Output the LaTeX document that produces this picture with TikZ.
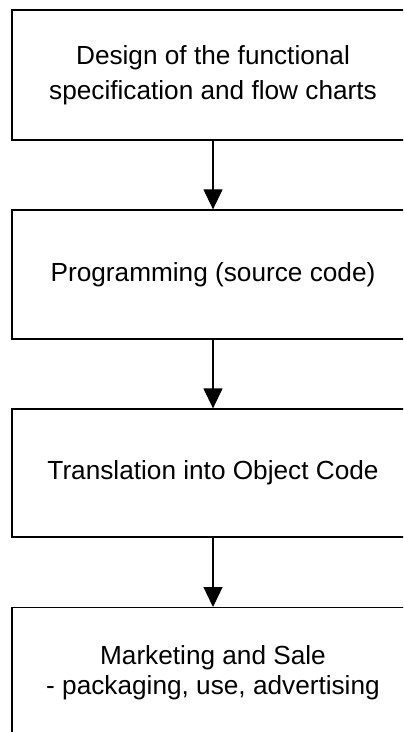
\documentclass[tikz,border=0pt]{standalone}
\usepackage{fontspec}
\setmainfont{Liberation Sans}
\usetikzlibrary{arrows.meta}
\begin{document}
\begin{tikzpicture}[x=1bp,y=-1bp,
  stagebox/.style={draw=black,line width=1.3bp,rectangle,minimum width=402bp,
    inner sep=0pt,align=center,font=\fontsize{26.2bp}{35bp}\selectfont},
  stagetext/.style={inner sep=0pt,align=center,font=\fontsize{26.2bp}{30bp}\selectfont},
  flow/.style={line width=1.3bp,-{Triangle[width=19bp,length=20bp]}}]
\useasboundingbox (0,0) rectangle (403,732);
\clip (0,0) rectangle (403,732);
% the four stages, each box running off the right edge
\node[stagebox,minimum height=130bp] (spec) at (213,75)
  {Design of the functional\\specification and flow charts};
\node[stagebox,minimum height=129bp] (prog) at (213,274.5)
  {Programming (source code)};
\node[stagebox,minimum height=128bp] (trans) at (213,473)
  {Translation into Object Code};
\node[stagebox,minimum height=160bp,anchor=north] (sale) at (213,607) {};
\node[stagetext] (saletext) at (213,673)
  {Marketing and Sale\\- packaging, use, advertising};
% connectors between the stages
\draw[flow] (spec.south) -- (prog.north);
\draw[flow] (prog.south) -- (trans.north);
\draw[flow] (trans.south) -- (sale.north);
\end{tikzpicture}
\end{document}
